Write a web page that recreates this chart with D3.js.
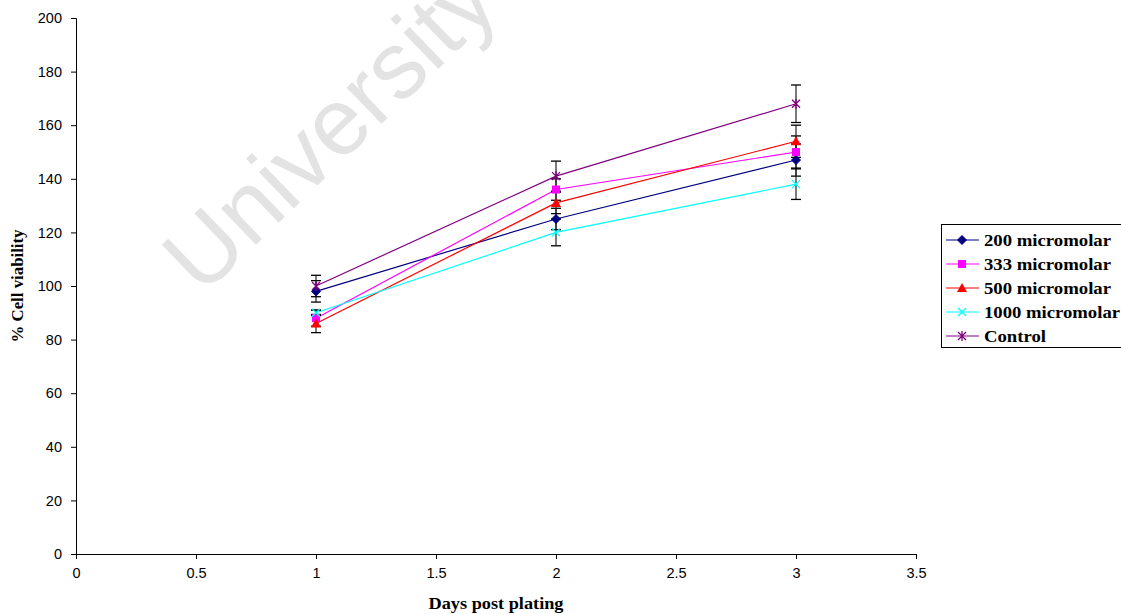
<!DOCTYPE html>
<html><head><meta charset="utf-8">
<script src="https://cdn.jsdelivr.net/npm/d3@7"></script>
<style>body{margin:0;background:#fff;}svg{display:block;}</style>
</head><body>
<svg id="c" width="1121" height="614"></svg>
<script>
const days = [1, 2, 3];
const seriesNames = ["200 micromolar", "333 micromolar", "500 micromolar", "1000 micromolar", "Control"];
const v200 = [98, 125, 147];
const v333 = [88, 136, 150];
const v500 = [86, 131, 154];
const v1000 = [90, 120, 138];
const vControl = [100, 141, 168];
const e200 = [4, 4, 6];
const e333 = [3, 4, 6];
const e500 = [3.4, 4, 6];
const e1000 = [1, 5, 5.7];
const eControl = [4, 5.6, 7];
const xTicks = [0, 0.5, 1, 1.5, 2, 2.5, 3, 3.5];
const yTicks = [0, 20, 40, 60, 80, 100, 120, 140, 160, 180, 200];
const colors = ["#000080", "#ff00ff", "#ff0000", "#00ffff", "#800080"];
const markers = ["diamond", "square", "triangle", "x", "star"];

const series = seriesNames.map((n, i) => ({
  name: n,
  vals: [v200, v333, v500, v1000, vControl][i],
  errs: [e200, e333, e500, e1000, eControl][i],
  color: colors[i], marker: markers[i]
}));

const svg = d3.select("#c");
const x = d3.scaleLinear().domain([0, 3.5]).range([76, 916]);
const y = d3.scaleLinear().domain([0, 200]).range([554, 18]);

// watermark
svg.append("text").attr("transform", "translate(202,297) rotate(-44)")
  .attr("font-family", "Liberation Sans, Arial, sans-serif").attr("font-size", 95)
  .attr("fill", "#e3e3e3").text("University");

const tickFont = "Liberation Sans, Arial, sans-serif";
const xa = svg.append("g").attr("transform", "translate(0,554)")
  .call(d3.axisBottom(x).tickValues(xTicks).tickSize(5).tickPadding(9).tickFormat(d => d));
const ya = svg.append("g").attr("transform", "translate(76,0)")
  .call(d3.axisLeft(y).tickValues(yTicks).tickSize(5).tickPadding(9).tickFormat(d => d));
[xa, ya].forEach(a => {
  a.select(".domain").attr("stroke", "#000").attr("stroke-width", 1);
  a.selectAll(".tick line").attr("stroke", "#000");
  a.selectAll("text").attr("font-family", tickFont).attr("font-size", 14.5).attr("fill", "#000");
});

const serif = "Liberation Serif, Times New Roman, serif";
// axis titles
svg.append("text").attr("x", 496).attr("y", 609).attr("text-anchor", "middle")
  .attr("font-family", serif).attr("font-weight", "bold")
  .attr("font-size", 16).attr("textLength", 135).attr("lengthAdjust", "spacingAndGlyphs").text("Days post plating");
svg.append("text").attr("transform", "translate(23,286) rotate(-90)").attr("text-anchor", "middle")
  .attr("font-family", serif).attr("font-weight", "bold")
  .attr("font-size", 16).attr("textLength", 113).attr("lengthAdjust", "spacingAndGlyphs").text("% Cell viability");

function drawMarker(g, type, color) {
  if (type === "diamond") g.append("path").attr("d", "M0,-4.5L4.5,0L0,4.5L-4.5,0Z").attr("fill", color).attr("stroke", color);
  else if (type === "square") g.append("rect").attr("x", -4).attr("y", -4).attr("width", 8).attr("height", 8).attr("fill", color);
  else if (type === "triangle") g.append("path").attr("d", "M0,-5L5,4L-5,4Z").attr("fill", color);
  else if (type === "x") g.append("path").attr("d", "M-4,-4L4,4M-4,4L4,-4").attr("stroke", color).attr("stroke-width", 1.3).attr("fill", "none");
  else if (type === "star") g.append("path").attr("d", "M-4,-4L4,4M-4,4L4,-4M0,-5L0,5").attr("stroke", color).attr("stroke-width", 1.3).attr("fill", "none");
}

const line = d3.line().x((d, i) => x(days[i])).y(d => y(d));
series.forEach(s => {
  svg.append("path").attr("d", line(s.vals)).attr("fill", "none").attr("stroke", s.color).attr("stroke-width", 1.2);
});
series.forEach(s => {
  s.vals.forEach((v, i) => {
    const cx = x(days[i]);
    const g = svg.append("g");
    g.append("line").attr("x1", cx).attr("x2", cx).attr("y1", y(v - s.errs[i])).attr("y2", y(v + s.errs[i]))
      .attr("stroke", "#222").attr("stroke-width", 1.2);
    [v - s.errs[i], v + s.errs[i]].forEach(e => {
      g.append("line").attr("x1", cx - 5).attr("x2", cx + 5).attr("y1", y(e)).attr("y2", y(e))
        .attr("stroke", "#000").attr("stroke-width", 1.3);
    });
  });
});
series.forEach(s => {
  s.vals.forEach((v, i) => {
    const g = svg.append("g").attr("transform", `translate(${x(days[i])},${y(v)})`);
    drawMarker(g, s.marker, s.color);
  });
});

// legend
const legendWidths = [127, 127, 127, 136, 62];
const lg = svg.append("g");
lg.append("rect").attr("x", 941.5).attr("y", 224.5).attr("width", 185).attr("height", 123)
  .attr("fill", "#fff").attr("stroke", "#000").attr("stroke-width", 1);
series.forEach((s, i) => {
  const ly = 240 + i * 24;
  lg.append("line").attr("x1", 946).attr("x2", 979).attr("y1", ly).attr("y2", ly).attr("stroke", s.color).attr("stroke-width", 1.2);
  drawMarker(lg.append("g").attr("transform", `translate(962,${ly})`), s.marker, s.color);
  lg.append("text").attr("x", 984).attr("y", ly + 5.5)
    .attr("font-family", serif).attr("font-weight", "bold")
    .attr("font-size", 16).attr("textLength", legendWidths[i]).attr("lengthAdjust", "spacingAndGlyphs").text(s.name);
});
</script>
</body></html>
